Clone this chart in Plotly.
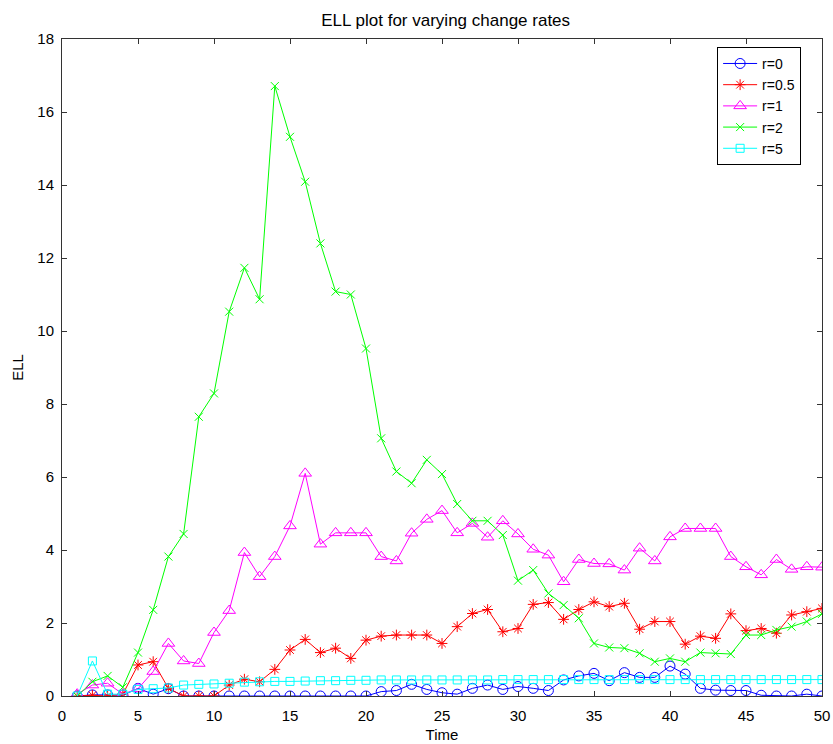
import plotly.graph_objects as go

time = list(range(1, 51))

r0 = [0, 0.03, 0.03, 0.02, 0.21, 0.05, 0.2, 0, 0, 0,
      0, 0, 0, 0, 0, 0, 0, 0, 0, 0,
      0.12, 0.15, 0.32, 0.18, 0.09, 0.05, 0.21, 0.3, 0.18, 0.26,
      0.21, 0.15, 0.44, 0.55, 0.62, 0.42, 0.64, 0.51, 0.51, 0.82,
      0.6, 0.21, 0.16, 0.15, 0.15, 0.02, 0, 0, 0.05, 0]

r05 = [0, 0.02, 0, 0.05, 0.85, 0.94, 0.21, 0, 0, 0,
       0.3, 0.46, 0.39, 0.73, 1.26, 1.55, 1.19, 1.31, 1.03, 1.53,
       1.64, 1.67, 1.67, 1.67, 1.44, 1.90, 2.26, 2.37, 1.76, 1.85,
       2.51, 2.56, 2.10, 2.37, 2.58, 2.45, 2.54, 1.83, 2.04, 2.04,
       1.42, 1.64, 1.58, 2.25, 1.79, 1.85, 1.72, 2.22, 2.31, 2.40]

r1 = [0.05, 0.3, 0.35, 0.05, 0.2, 0.67, 1.44, 0.96, 0.89, 1.74,
      2.34, 3.93, 3.27, 3.82, 4.66, 6.10, 4.16, 4.47, 4.47, 4.47,
      3.82, 3.70, 4.46, 4.84, 5.08, 4.47, 4.73, 4.35, 4.80, 4.44,
      4.02, 3.86, 3.13, 3.74, 3.63, 3.62, 3.45, 4.05, 3.70, 4.36,
      4.59, 4.59, 4.59, 3.82, 3.54, 3.32, 3.74, 3.47, 3.54, 3.53]

r2 = [0, 0.39, 0.55, 0.24, 1.19, 2.36, 3.82, 4.44, 7.65, 8.29,
      10.53, 11.73, 10.87, 16.71, 15.32, 14.09, 12.40, 11.08, 11.0, 9.52,
      7.06, 6.15, 5.83, 6.47, 6.08, 5.26, 4.80, 4.80, 4.41, 3.16,
      3.45, 2.81, 2.49, 2.13, 1.44, 1.33, 1.31, 1.17, 0.94, 1.03,
      0.94, 1.19, 1.17, 1.15, 1.67, 1.67, 1.81, 1.90, 2.04, 2.25]

r5 = [0, 0.96, 0.05, 0.05, 0.18, 0.2, 0.22, 0.3, 0.32, 0.33,
      0.35, 0.38, 0.39, 0.40, 0.40, 0.41, 0.42, 0.42, 0.43, 0.43,
      0.44, 0.44, 0.44, 0.44, 0.44, 0.44, 0.44, 0.44, 0.45, 0.45,
      0.45, 0.45, 0.45, 0.45, 0.45, 0.45, 0.45, 0.45, 0.45, 0.45,
      0.45, 0.45, 0.45, 0.45, 0.45, 0.45, 0.45, 0.45, 0.45, 0.45]

series_names = ["r=0", "r=0.5", "r=1", "r=2", "r=5"]
series_values = [r0, r05, r1, r2, r5]
colors = ["#0000FF", "#FF0000", "#FF00FF", "#00FF00", "#00FFFF"]
symbols = ["circle-open", "asterisk-open", "triangle-up-open", "x-thin-open", "square-open"]
sizes = [10, 9, 11, 8, 8]

x_ticks = [0, 5, 10, 15, 20, 25, 30, 35, 40, 45, 50]
y_ticks = [0, 2, 4, 6, 8, 10, 12, 14, 16, 18]

fig = go.Figure()
for name, vals, c, s, sz in zip(series_names, series_values, colors, symbols, sizes):
    fig.add_trace(go.Scatter(
        x=time, y=vals, name=name, mode="lines+markers",
        line=dict(color=c, width=1),
        marker=dict(symbol=s, size=sz, color=c, line=dict(color=c, width=1)),
    ))

font_family = "Arial, Liberation Sans, sans-serif"
fig.update_layout(
    width=833, height=744,
    margin=dict(l=62, r=11, t=39, b=48, autoexpand=False),
    paper_bgcolor="white", plot_bgcolor="white",
    font=dict(family=font_family, size=15, color="black"),
    title=dict(text="ELL plot for varying change rates", x=0.535, xanchor="center",
               xref="container", y=0.973, yanchor="middle", yref="container",
               font=dict(size=17)),
    showlegend=True,
    legend=dict(x=0.862, y=0.988, xanchor="left", yanchor="top",
                bordercolor="black", borderwidth=1, bgcolor="white",
                font=dict(size=14), tracegroupgap=0, itemwidth=34,
                entrywidth=62, entrywidthmode="pixels"),
)
fig.update_xaxes(
    range=[0, 50], tickvals=x_ticks, ticks="inside", ticklen=5, tickcolor="#333333",
    showline=True, linecolor="#333333", linewidth=1, mirror="ticks",
    showgrid=False, zeroline=False, automargin=False, ticklabelstandoff=6,
    title=dict(text="Time", standoff=6, font=dict(size=15)), tickfont=dict(size=15),
)
fig.update_yaxes(
    range=[0, 18], tickvals=y_ticks, ticks="inside", ticklen=5, tickcolor="#333333",
    showline=True, linecolor="#333333", linewidth=1, mirror="ticks",
    showgrid=False, zeroline=False, automargin=False, ticklabelstandoff=4,
    title=dict(text="ELL", standoff=10, font=dict(size=15)), tickfont=dict(size=15),
)

fig.write_html("out.html", config={"displayModeBar": False},
               post_script="document.body.style.margin='0';")
